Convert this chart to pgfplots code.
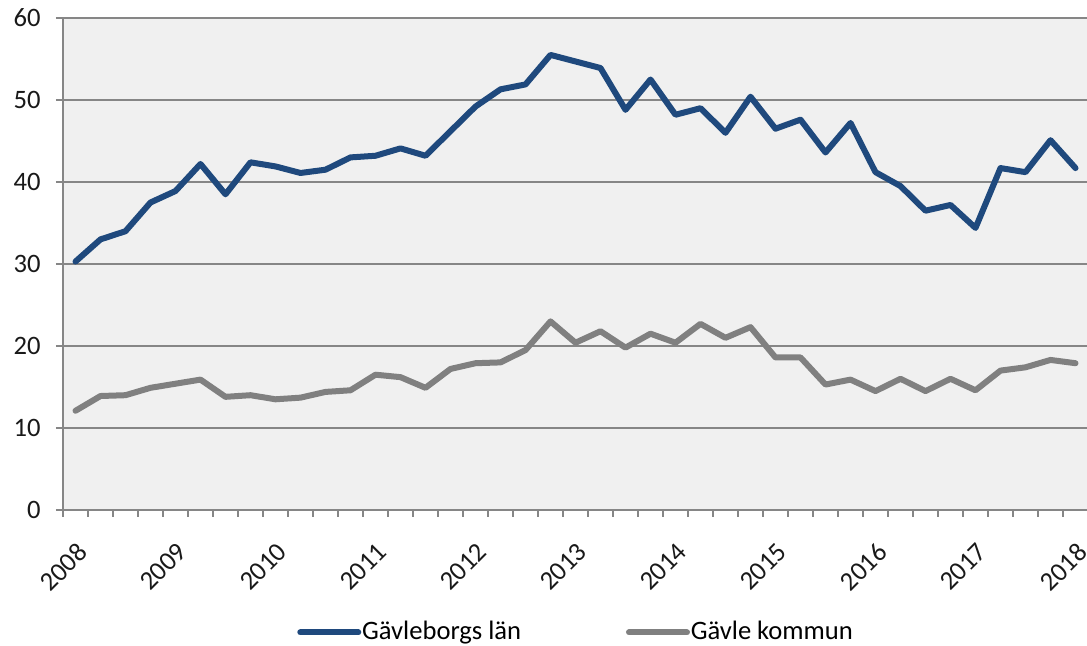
\documentclass[border=0pt]{standalone}
\usepackage{pgfplots}
\pgfplotsset{compat=1.18}
\usepackage{pgfplotstable}
\usepackage{fontspec}
\setmainfont{Carlito}
\definecolor{bluel}{RGB}{31,73,125}
\definecolor{grayl}{RGB}{128,128,128}
\definecolor{gridc}{RGB}{134,134,134}
\definecolor{bgc}{RGB}{240,240,240}
\pgfplotstableread{
x y
0 30.3
1 33.0
2 34.0
3 37.5
4 38.9
5 42.2
6 38.5
7 42.4
8 41.9
9 41.1
10 41.5
11 43.0
12 43.2
13 44.1
14 43.2
15 46.2
16 49.2
17 51.3
18 51.9
19 55.5
20 54.7
21 53.9
22 48.8
23 52.5
24 48.2
25 49.0
26 46.0
27 50.4
28 46.5
29 47.6
30 43.6
31 47.2
32 41.2
33 39.5
34 36.5
35 37.2
36 34.4
37 41.7
38 41.2
39 45.1
40 41.7
}\lan
\pgfplotstableread{
x y
0 12.1
1 13.9
2 14.0
3 14.9
4 15.4
5 15.9
6 13.8
7 14.0
8 13.5
9 13.7
10 14.4
11 14.6
12 16.5
13 16.2
14 14.9
15 17.2
16 17.9
17 18.0
18 19.5
19 23.0
20 20.4
21 21.8
22 19.8
23 21.5
24 20.4
25 22.7
26 21.0
27 22.3
28 18.6
29 18.6
30 15.3
31 15.9
32 14.5
33 16.0
34 14.5
35 16.0
36 14.6
37 17.0
38 17.4
39 18.3
40 17.9
}\kommun
\begin{document}
\fontsize{13.3}{16}\selectfont
\begin{tikzpicture}
\path[use as bounding box] (0,0) rectangle (543.5pt,323pt);
\begin{axis}[
  at={(31.5pt,68pt)}, anchor=south west,
  scale only axis, width=512.5pt, height=246pt,
  xmin=-0.5, xmax=40.5, ymin=0, ymax=60,
  axis x line*=bottom, axis y line*=left,
  axis line style={gridc, line width=1pt},
  axis background/.style={fill=bgc},
  ytick={0,10,...,60},
  ymajorgrids, grid style={gridc, line width=1pt},
  xtick={-0.5,0.5,...,40.5}, xticklabels={},
  extra x ticks={0,4,...,40},
  extra x tick labels={2008,2009,2010,2011,2012,2013,2014,2015,2016,2017,2018},
  extra x tick style={major tick length=0pt},
  xticklabel style={xshift=0.3pt, yshift=-15.5pt, rotate=45, anchor=north east, inner sep=0pt},
  tick align=outside, major tick length=3.5pt,
  tick style={gridc, line width=1pt},
  xtick pos=bottom, ytick pos=left,
  yticklabel style={anchor=east, inner sep=0pt, xshift=-7.5pt},
  /pgf/number format/assume math mode=true,
  tick label style={font=\fontsize{13.3}{16}\selectfont, text=black!90},
  legend columns=2,
  legend style={at={(0.500,-0.249)}, anchor=center, draw=none, fill=none,
    font=\fontsize{13.3}{16}\selectfont,
    /tikz/every even column/.append style={column sep=52pt},
    nodes={inner sep=0.4pt}},
  legend image code/.code={\draw[#1, line width=3pt, line cap=round] (0pt,0pt) -- (29pt,0pt);},
]
\addplot[bluel, line width=3pt, line join=round, line cap=round] table[x=x,y=y] {\lan};
\addlegendentry{Gävleborgs län}
\addplot[grayl, line width=3pt, line join=round, line cap=round] table[x=x,y=y] {\kommun};
\addlegendentry{Gävle kommun}
\end{axis}
\end{tikzpicture}
\end{document}
